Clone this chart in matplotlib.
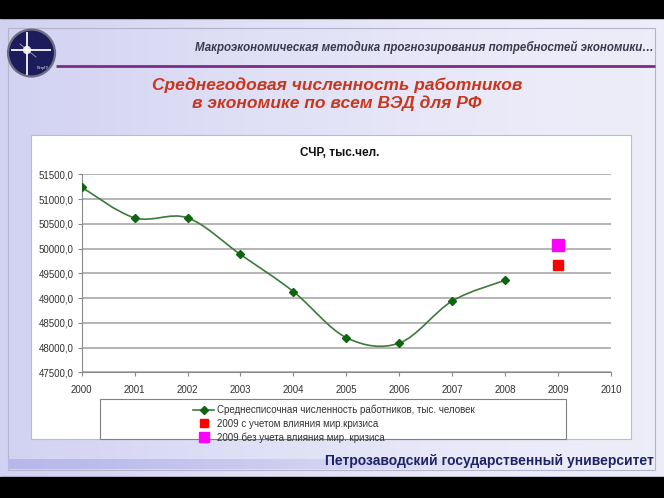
import numpy as np
import matplotlib
matplotlib.use('Agg')
import matplotlib.pyplot as plt
import matplotlib.patches as patches
from matplotlib.path import Path

plt.rcParams['font.family'] = ['Liberation Sans', 'DejaVu Sans']

# Data
years = [2000, 2001, 2002, 2003, 2004, 2005, 2006, 2007, 2008]
workers = [51240, 50620, 50620, 49880, 49130, 48200, 48090, 48940, 49360]
crisis_year = [2009]
with_crisis = [49660]
without_crisis = [50070]

y_ticks = [47500, 48000, 48500, 49000, 49500, 50000, 50500, 51000, 51500]
y_labels = ['{:.1f}'.format(v).replace('.', ',') for v in y_ticks]
x_ticks = list(range(2000, 2011))

header = 'Макроэкономическая методика прогнозирования потребностей экономики…'
title = 'Среднегодовая численность работников\nв экономике по всем ВЭД для РФ'
chart_title = 'СЧР, тыс.чел.'
footer = 'Петрозаводский государственный университет'
legend_labels = ['Среднесписочная численность работников, тыс. человек',
                 '2009 с учетом влияния мир.кризиса',
                 '2009 без учета влияния мир. кризиса']

W, H = 664, 498
fig = plt.figure(figsize=(W / 100, H / 100), dpi=100)

# background slide, drawn in pixel coordinates
bg = fig.add_axes([0, 0, 1, 1])
bg.set_xlim(0, W)
bg.set_ylim(H, 0)
bg.axis('off')

gx = np.linspace(0, 1, 256)
c0 = np.array([0.82, 0.82, 0.95])
c1 = np.array([0.93, 0.93, 0.98])
grad = c0[None, None, :] * (1 - gx[None, :, None]) ** 1.5 + c1[None, None, :] * (1 - (1 - gx[None, :, None]) ** 1.5)
bg.imshow(np.repeat(grad, 2, axis=0), extent=[0, W, H, 0], aspect='auto', zorder=0)

# black bars
bg.add_patch(patches.Rectangle((0, 0), W, 18, color='black', zorder=1))
bg.add_patch(patches.Rectangle((0, 477), W, 21, color='black', zorder=1))

# slide frame
bg.add_patch(patches.Rectangle((8, 28), 647, 442, fill=False, edgecolor='#B4B4CC', lw=0.8, zorder=2))

# bottom bar fading to the right
bar = np.zeros((2, 256, 4))
bar[..., 0] = 0.72
bar[..., 1] = 0.72
bar[..., 2] = 0.92
bar[..., 3] = np.clip(1 - gx * 1.3, 0, 1)[None, :]
bg.imshow(bar, extent=[8, 655, 469, 459], aspect='auto', zorder=2)

# purple line under header
bg.plot([56, 655], [66, 66], color='#7B2D86', lw=2.0, solid_capstyle='butt', zorder=3)

# logo
bg.add_patch(patches.Circle((31.5, 53), 23.5, facecolor='#1C1C5C', edgecolor='#6E6E80', lw=1.6, zorder=3))
bg.plot([27, 27], [33, 74], color='white', lw=1.4, alpha=0.9, zorder=4)
bg.plot([12, 50], [50, 50], color='white', lw=1.4, alpha=0.9, zorder=4)
bg.plot([20, 36], [44, 57], color='white', lw=0.6, alpha=0.6, zorder=4)
bg.add_patch(patches.Circle((27, 50), 3.5, color='white', alpha=0.8, zorder=4))
bg.text(43, 68, 'ПетрГУ', color='white', fontsize=2.5, ha='center', va='center', zorder=4)

# header texts
bg.text(654, 47, header, ha='right', va='center', fontsize=8.3, style='italic',
        weight='bold', color='#3A3A4E', zorder=4)
bg.text(337, 94, title, ha='center', va='center', fontsize=12.5, style='italic',
        weight='bold', color='#C8361C', linespacing=1.15, zorder=4)
bg.text(654, 461, footer, ha='right', va='center', fontsize=10, weight='bold',
        color='#1C2466', zorder=4)

# chart box and legend box
bg.add_patch(patches.Rectangle((31, 135), 600, 304, facecolor='white', edgecolor='#BDBDBD', lw=0.8, zorder=3))
bg.add_patch(patches.Rectangle((100, 399), 466, 40, facecolor='white', edgecolor='#808080', lw=0.8, zorder=4))
bg.text(340, 153, chart_title, ha='center', va='center', fontsize=8.5, weight='bold',
        color='#111111', zorder=4)

# chart
ax = fig.add_axes([81.7 / W, 1 - 372.3 / H, (611 - 81.7) / W, (372.3 - 174.3) / H])
ax.set_facecolor('none')

# smoothed line (Bezier through the data points, like Excel smoothing)
pts = np.column_stack([years, workers]).astype(float)
verts = [pts[0]]
codes = [Path.MOVETO]
for i in range(len(pts) - 1):
    p0 = pts[max(i - 1, 0)]
    p1 = pts[i]
    p2 = pts[i + 1]
    p3 = pts[min(i + 2, len(pts) - 1)]
    verts += [p1 + (p2 - p0) / 6, p2 - (p3 - p1) / 6, p2]
    codes += [Path.CURVE4] * 3
ax.add_patch(patches.PathPatch(Path(verts, codes), fill=False, edgecolor='#3C7A3C', lw=1.2, zorder=3))
ax.plot(years, workers, linestyle='none', marker='D', markersize=4.5, color='#0E650E', zorder=4)
line_handle = plt.Line2D([], [], color='#3C7A3C', lw=1.2, marker='D', markersize=4, markerfacecolor='#0E650E',
                         markeredgecolor='#0E650E')

red = ax.plot(crisis_year, with_crisis, linestyle='none', marker='s', markersize=6.5,
              color='#FF0000', zorder=4)[0]
mag = ax.plot(crisis_year, without_crisis, linestyle='none', marker='s', markersize=8.5,
              color='#FF00FF', zorder=4)[0]

ax.set_xlim(2000, 2010)
ax.set_ylim(47500, 51500)
ax.set_xticks(x_ticks)
ax.set_xticklabels([str(x) for x in x_ticks])
ax.set_yticks(y_ticks)
ax.set_yticklabels(y_labels)
ax.tick_params(axis='both', labelsize=7, colors='#8A8A8A', labelcolor='#333333', length=3, width=0.8)
ax.tick_params(axis='x', pad=6)
ax.tick_params(axis='y', pad=3)
for side in ['top', 'right']:
    ax.spines[side].set_visible(False)
for side in ['left', 'bottom']:
    ax.spines[side].set_color('#8A8A8A')
    ax.spines[side].set_linewidth(0.8)
ax.yaxis.grid(True, color='#A8A8A8', lw=1.2)
ax.set_axisbelow(True)

red_h = plt.Line2D([], [], linestyle='none', marker='s', markersize=5.5, color='#FF0000')
mag_h = plt.Line2D([], [], linestyle='none', marker='s', markersize=6.5, color='#FF00FF')
leg = fig.legend([line_handle, red_h, mag_h], legend_labels, loc='upper left',
                 bbox_to_anchor=(188 / W, 1 - 400 / H), frameon=False, fontsize=7,
                 borderpad=0, labelspacing=0.35, handlelength=2.2, handletextpad=0.3)
for t in leg.get_texts():
    t.set_color('#333333')
leg.set_zorder(10)

fig.savefig('out.png', dpi=100)
